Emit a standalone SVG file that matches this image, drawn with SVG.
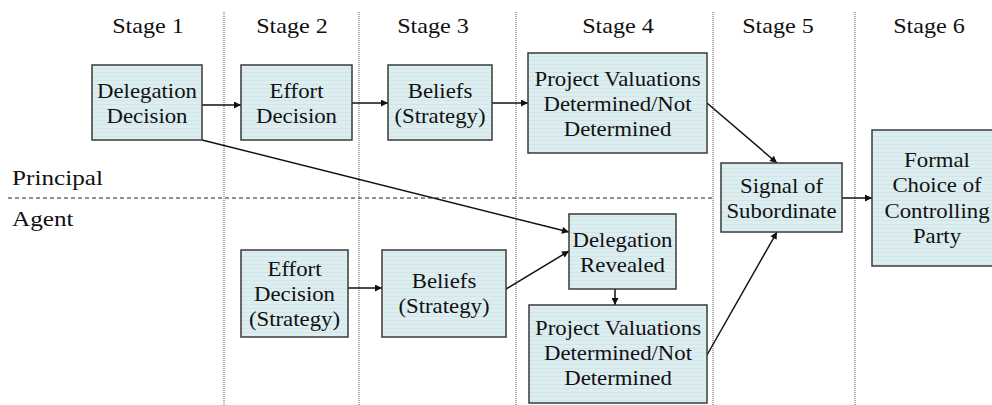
<svg xmlns="http://www.w3.org/2000/svg" width="992" height="405" viewBox="0 0 992 405">
<style>
.bg{fill:#ffffff}
.box{fill:url(#stripe);stroke:#3a3a3a;stroke-width:1.5}
.t{font-family:"Liberation Serif","Times New Roman",serif;font-size:20px;text-anchor:middle;fill:#111}
.lbl{font-family:"Liberation Serif","Times New Roman",serif;font-size:21px;fill:#111}
.vd{stroke:#555;stroke-width:1;stroke-dasharray:1,1;fill:none}
.hd{stroke:#222;stroke-width:1;stroke-dasharray:4,3;fill:none}
.c{stroke:#111;stroke-width:1.5;fill:none;marker-end:url(#ah)}
</style>
<defs>
<pattern id="stripe" patternUnits="userSpaceOnUse" width="8" height="4">
<rect x="0" y="0" width="8" height="4" fill="#ddeef1"/>
<rect x="0" y="0" width="8" height="1" fill="#d2e6ea"/>
</pattern>
<marker id="ah" viewBox="0 0 10 10" refX="10" refY="5" markerWidth="8" markerHeight="7" markerUnits="userSpaceOnUse" orient="auto">
<path d="M0,0 L10,5 L0,10 z" fill="#111"/>
</marker>
</defs>
<rect class="bg" x="0" y="0" width="992" height="405"/>
<g id="grid">
<line class="vd" x1="224" y1="12" x2="224" y2="405"/>
<line class="vd" x1="359" y1="12" x2="359" y2="405"/>
<line class="vd" x1="516" y1="12" x2="516" y2="405"/>
<line class="vd" x1="713" y1="12" x2="713" y2="405"/>
<line class="vd" x1="855" y1="12" x2="855" y2="405"/>
<line class="hd" x1="8" y1="198" x2="712" y2="198"/>
</g>
<g id="labels">
<text class="lbl" transform="matrix(1.15,0,0,1,148,33)" text-anchor="middle">Stage 1</text>
<text class="lbl" transform="matrix(1.15,0,0,1,292,33)" text-anchor="middle">Stage 2</text>
<text class="lbl" transform="matrix(1.15,0,0,1,433,33)" text-anchor="middle">Stage 3</text>
<text class="lbl" transform="matrix(1.15,0,0,1,618,33)" text-anchor="middle">Stage 4</text>
<text class="lbl" transform="matrix(1.15,0,0,1,778,33)" text-anchor="middle">Stage 5</text>
<text class="lbl" transform="matrix(1.15,0,0,1,929,33)" text-anchor="middle">Stage 6</text>
<text class="lbl" transform="matrix(1.2,0,0,1,12,185)">Principal</text>
<text class="lbl" transform="matrix(1.2,0,0,1,12,226)">Agent</text>
</g>
<g id="connectors">
<line class="c" x1="202" y1="105" x2="241" y2="105"/>
<line class="c" x1="352" y1="103" x2="388" y2="103"/>
<line class="c" x1="492" y1="103" x2="528" y2="103"/>
<line class="c" x1="707" y1="103" x2="777" y2="163"/>
<line class="c" x1="202" y1="140" x2="569" y2="232"/>
<line class="c" x1="348" y1="288" x2="382" y2="288"/>
<line class="c" x1="506" y1="289" x2="569" y2="251"/>
<line class="c" x1="615" y1="289" x2="615" y2="305"/>
<line class="c" x1="707" y1="355" x2="777" y2="232"/>
<line class="c" x1="842" y1="198" x2="872" y2="198"/>
</g>
<g id="n-delegation-decision">
<rect class="box" x="92" y="65" width="110" height="75"/>
<text class="t" transform="matrix(1.14,0,0,1,147,98)"><tspan x="0" y="0">Delegation</tspan><tspan x="0" y="25">Decision</tspan></text>
</g>
<g id="n-effort-decision-p">
<rect class="box" x="241" y="65" width="111" height="75"/>
<text class="t" transform="matrix(1.14,0,0,1,296.5,98)"><tspan x="0" y="0">Effort</tspan><tspan x="0" y="25">Decision</tspan></text>
</g>
<g id="n-beliefs-p">
<rect class="box" x="388" y="65" width="104" height="75"/>
<text class="t" transform="matrix(1.14,0,0,1,440,98)"><tspan x="0" y="0">Beliefs</tspan><tspan x="0" y="25">(Strategy)</tspan></text>
</g>
<g id="n-project-valuations-p">
<rect class="box" x="528" y="53" width="179" height="100"/>
<text class="t" transform="matrix(1.14,0,0,1,617.5,86)"><tspan x="0" y="0">Project Valuations</tspan><tspan x="0" y="25">Determined/Not</tspan><tspan x="0" y="50">Determined</tspan></text>
</g>
<g id="n-signal">
<rect class="box" x="721" y="163" width="121" height="69"/>
<text class="t" transform="matrix(1.14,0,0,1,781.5,193)"><tspan x="0" y="0">Signal of</tspan><tspan x="0" y="25">Subordinate</tspan></text>
</g>
<g id="n-formal-choice">
<rect class="box" x="872" y="130" width="130" height="136"/>
<text class="t" transform="matrix(1.14,0,0,1,937,167)"><tspan x="0" y="0">Formal</tspan><tspan x="0" y="25">Choice of</tspan><tspan x="0" y="51">Controlling</tspan><tspan x="0" y="76">Party</tspan></text>
</g>
<g id="n-effort-decision-a">
<rect class="box" x="241" y="250" width="107" height="87"/>
<text class="t" transform="matrix(1.14,0,0,1,294.5,276)"><tspan x="0" y="0">Effort</tspan><tspan x="0" y="25">Decision</tspan><tspan x="0" y="50">(Strategy)</tspan></text>
</g>
<g id="n-beliefs-a">
<rect class="box" x="382" y="250" width="124" height="87"/>
<text class="t" transform="matrix(1.14,0,0,1,444,288)"><tspan x="0" y="0">Beliefs</tspan><tspan x="0" y="25">(Strategy)</tspan></text>
</g>
<g id="n-delegation-revealed">
<rect class="box" x="569" y="214" width="107" height="75"/>
<text class="t" transform="matrix(1.14,0,0,1,622.5,247)"><tspan x="0" y="0">Delegation</tspan><tspan x="0" y="25">Revealed</tspan></text>
</g>
<g id="n-project-valuations-a">
<rect class="box" x="529" y="305" width="178" height="98"/>
<text class="t" transform="matrix(1.14,0,0,1,618,335)"><tspan x="0" y="0">Project Valuations</tspan><tspan x="0" y="25">Determined/Not</tspan><tspan x="0" y="50">Determined</tspan></text>
</g>
</svg>
